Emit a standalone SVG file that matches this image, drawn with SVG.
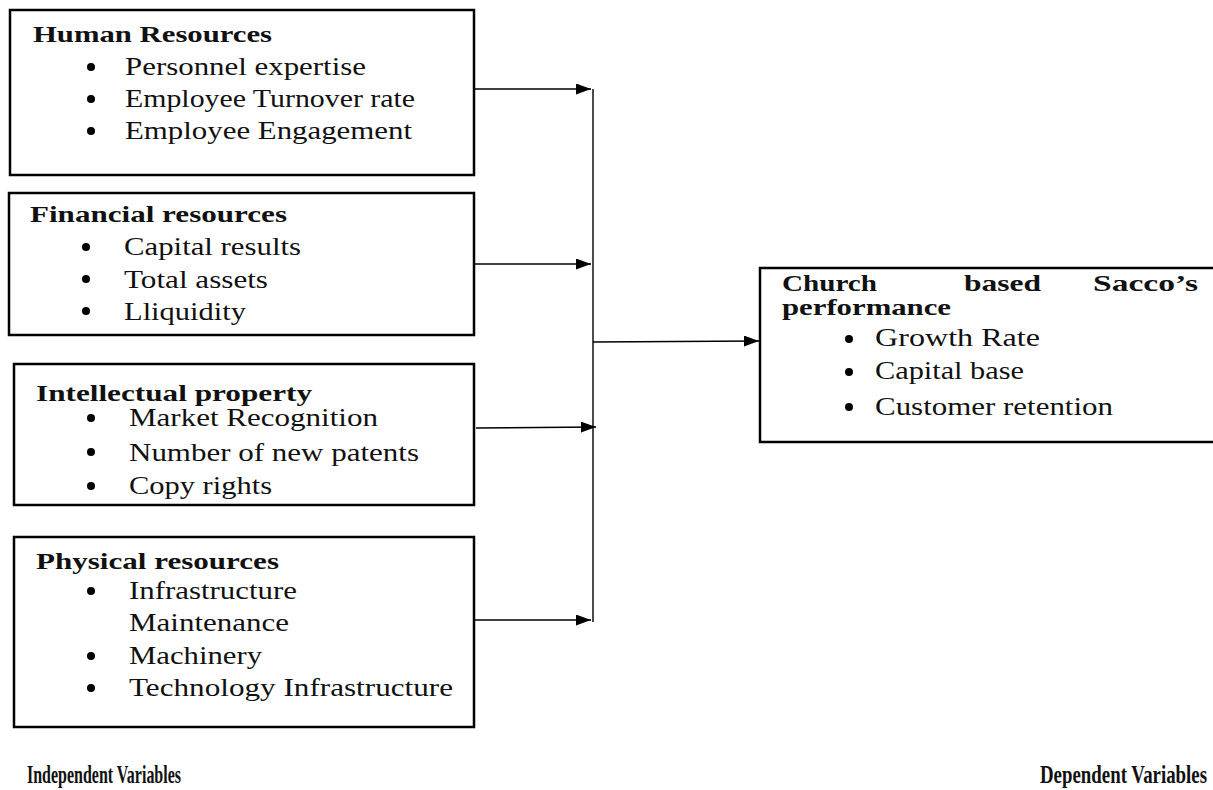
<svg xmlns="http://www.w3.org/2000/svg" width="1213" height="790" viewBox="0 0 1213 790">
<defs>
<marker id="ah2" viewBox="0 0 10 10" refX="10" refY="5" markerWidth="15" markerHeight="11" markerUnits="userSpaceOnUse" orient="auto" preserveAspectRatio="none"><path d="M0,0 L10,5 L0,10 z" fill="#000"/></marker>
</defs>
<style>
.box{fill:#fff;stroke:#000;stroke-width:2.5}
.t{font-family:"Liberation Serif","Times New Roman",serif;font-size:24px;font-weight:bold;fill:#111}
.i{font-family:"Liberation Serif","Times New Roman",serif;font-size:25px;fill:#111}
.b{fill:#000}
.c{stroke:#000;stroke-width:1.4;fill:none}
.lab{font-family:"Liberation Serif","Times New Roman",serif;font-size:25px;font-weight:bold;fill:#111}
</style>
<rect width="1213" height="790" fill="#fff"/>
<g id="connectors">
<line class="c" x1="593" y1="89" x2="593" y2="622"/>
<line class="c" x1="474" y1="89" x2="591" y2="89" marker-end="url(#ah2)"/>
<line class="c" x1="474" y1="264" x2="591" y2="264" marker-end="url(#ah2)"/>
<line class="c" x1="476" y1="428" x2="596" y2="427" marker-end="url(#ah2)"/>
<line class="c" x1="474" y1="620" x2="591" y2="620" marker-end="url(#ah2)"/>
<line class="c" x1="593" y1="342" x2="759" y2="341" marker-end="url(#ah2)"/>
</g>
<g id="human">
<rect class="box" x="10" y="10" width="464" height="165"/>
<text class="t" x="33" y="42" textLength="239" lengthAdjust="spacingAndGlyphs">Human Resources</text>
<circle class="b" cx="91" cy="67" r="4"/><circle class="b" cx="91" cy="99" r="4"/><circle class="b" cx="91" cy="131" r="4"/>
<text class="i" x="125" y="75" textLength="241" lengthAdjust="spacingAndGlyphs">Personnel expertise</text>
<text class="i" x="125" y="107" textLength="290" lengthAdjust="spacingAndGlyphs">Employee Turnover rate</text>
<text class="i" x="125" y="139" textLength="287" lengthAdjust="spacingAndGlyphs">Employee Engagement</text>
</g>
<g id="financial">
<rect class="box" x="9" y="193" width="465" height="142"/>
<text class="t" x="30" y="222" textLength="257" lengthAdjust="spacingAndGlyphs">Financial resources</text>
<circle class="b" cx="86" cy="247" r="4"/><circle class="b" cx="86" cy="279" r="4"/><circle class="b" cx="86" cy="311" r="4"/>
<text class="i" x="124" y="255" textLength="177" lengthAdjust="spacingAndGlyphs">Capital results</text>
<text class="i" x="124" y="288" textLength="144" lengthAdjust="spacingAndGlyphs">Total assets</text>
<text class="i" x="124" y="320" textLength="122" lengthAdjust="spacingAndGlyphs">Lliquidity</text>
</g>
<g id="intellectual">
<rect class="box" x="14" y="364" width="460" height="141"/>
<text class="t" x="36" y="401" textLength="276" lengthAdjust="spacingAndGlyphs">Intellectual property</text>
<circle class="b" cx="91" cy="418" r="4"/><circle class="b" cx="91" cy="452" r="4"/><circle class="b" cx="91" cy="486" r="4"/>
<text class="i" x="129" y="426" textLength="249" lengthAdjust="spacingAndGlyphs">Market Recognition</text>
<text class="i" x="129" y="461" textLength="290" lengthAdjust="spacingAndGlyphs">Number of new patents</text>
<text class="i" x="129" y="494" textLength="143" lengthAdjust="spacingAndGlyphs">Copy rights</text>
</g>
<g id="physical">
<rect class="box" x="14" y="537" width="460" height="190"/>
<text class="t" x="36" y="569" textLength="243" lengthAdjust="spacingAndGlyphs">Physical resources</text>
<circle class="b" cx="91" cy="591" r="4"/><circle class="b" cx="91" cy="656" r="4"/><circle class="b" cx="91" cy="688" r="4"/>
<text class="i" x="129" y="599" textLength="168" lengthAdjust="spacingAndGlyphs">Infrastructure</text>
<text class="i" x="129" y="631" textLength="160" lengthAdjust="spacingAndGlyphs">Maintenance</text>
<text class="i" x="129" y="664" textLength="133" lengthAdjust="spacingAndGlyphs">Machinery</text>
<text class="i" x="129" y="696" textLength="324" lengthAdjust="spacingAndGlyphs">Technology Infrastructure</text>
</g>
<g id="performance">
<rect class="box" x="760" y="268" width="470" height="174"/>
<text class="t" x="782" y="291" textLength="95" lengthAdjust="spacingAndGlyphs">Church</text>
<text class="t" x="964" y="291" textLength="77" lengthAdjust="spacingAndGlyphs">based</text>
<text class="t" x="1093" y="291" textLength="105" lengthAdjust="spacingAndGlyphs">Sacco’s</text>
<text class="t" x="782" y="315" textLength="169" lengthAdjust="spacingAndGlyphs">performance</text>
<circle class="b" cx="849" cy="339" r="4"/><circle class="b" cx="849" cy="372" r="4"/><circle class="b" cx="849" cy="407" r="4"/>
<text class="i" x="875" y="346" textLength="165" lengthAdjust="spacingAndGlyphs">Growth Rate</text>
<text class="i" x="875" y="379" textLength="149" lengthAdjust="spacingAndGlyphs">Capital base</text>
<text class="i" x="875" y="415" textLength="238" lengthAdjust="spacingAndGlyphs">Customer retention</text>
</g>
<g id="labels">
<text class="lab" transform="scale(0.65,1)" x="41.5" y="783" textLength="237" lengthAdjust="spacingAndGlyphs">Independent Variables</text>
<text class="lab" transform="scale(0.65,1)" x="1600" y="783" textLength="257" lengthAdjust="spacingAndGlyphs">Dependent Variables</text>
</g>
</svg>
